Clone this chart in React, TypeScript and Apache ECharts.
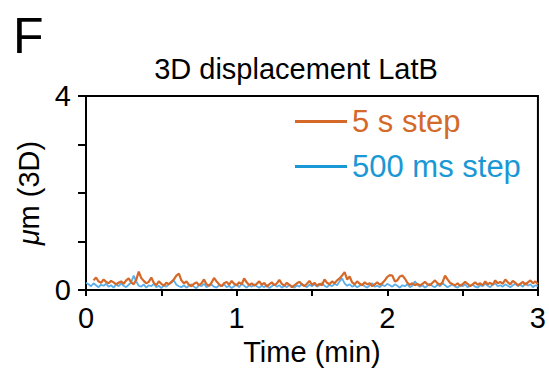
import React, { useEffect, useRef } from "react";
import * as echarts from "echarts";

// Time axis ticks (min)
const xTicks = [0, 1, 2, 3];
const yTicks = [0, 4];

// 5 s step trace: values (µm) sampled every 1 s starting at 3 s
const orangeStartSec = 3;
const orangeStepSec = 1;
const orangeValues = [
  0.20, 0.26, 0.18, 0.15, 0.22, 0.17, 0.14, 0.19, 0.16, 0.12,
  0.15, 0.18, 0.13, 0.20, 0.24, 0.16, 0.12, 0.21, 0.38, 0.25,
  0.19, 0.14, 0.17, 0.26, 0.15, 0.10, 0.18, 0.13, 0.09, 0.15,
  0.12, 0.17, 0.22, 0.30, 0.34, 0.20, 0.14, 0.18, 0.11, 0.08,
  0.13, 0.16, 0.10, 0.14, 0.22, 0.12, 0.09, 0.15, 0.25, 0.18,
  0.12, 0.08, 0.14, 0.17, 0.11, 0.19, 0.13, 0.10, 0.16, 0.12,
  0.24, 0.16, 0.10, 0.14, 0.09, 0.13, 0.18, 0.11, 0.15, 0.07,
  0.12, 0.16, 0.10, 0.14, 0.21, 0.13, 0.09, 0.15, 0.11, 0.06,
  0.10, 0.14, 0.17, 0.12, 0.08, 0.13, 0.19, 0.11, 0.15, 0.09,
  0.13, 0.10, 0.22, 0.15, 0.12, 0.18, 0.14, 0.20, 0.24, 0.30,
  0.37, 0.22, 0.28, 0.16, 0.12, 0.18, 0.13, 0.10, 0.16, 0.12,
  0.14, 0.08, 0.12, 0.16, 0.11, 0.14, 0.20, 0.27, 0.31, 0.30,
  0.18, 0.20, 0.28, 0.30, 0.24, 0.15, 0.11, 0.14, 0.10, 0.13,
  0.09, 0.13, 0.17, 0.12, 0.10, 0.15, 0.20, 0.14, 0.11, 0.16,
  0.30, 0.22, 0.15, 0.12, 0.10, 0.14, 0.09, 0.12, 0.17, 0.13,
  0.08, 0.12, 0.16, 0.11, 0.14, 0.10, 0.18, 0.12, 0.15, 0.11,
  0.20, 0.14, 0.17, 0.13, 0.22, 0.16, 0.12, 0.19, 0.15, 0.10,
  0.13, 0.17, 0.11, 0.16, 0.20, 0.14, 0.18, 0.12,
];

// 500 ms step trace: values (µm) shown every 1 s starting at 0 s
const blueStartSec = 0;
const blueStepSec = 1;
const blueValues = [
  0.15, 0.12, 0.08, 0.14, 0.10, 0.06, 0.11, 0.09, 0.13, 0.07,
  0.10, 0.05, 0.12, 0.08, 0.14, 0.09, 0.06, 0.11, 0.16, 0.30,
  0.18, 0.09, 0.07, 0.12, 0.05, 0.10, 0.08, 0.13, 0.06, 0.09,
  0.04, 0.10, 0.07, 0.12, 0.15, 0.20, 0.11, 0.08, 0.06, 0.10,
  0.05, 0.09, 0.12, 0.07, 0.04, 0.10, 0.08, 0.13, 0.06, 0.09,
  0.11, 0.07, 0.05, 0.10, 0.08, 0.12, 0.06, 0.09, 0.04, 0.08,
  0.11, 0.06, 0.13, 0.09, 0.05, 0.10, 0.07, 0.12, 0.08, 0.05,
  0.09, 0.06, 0.11, 0.04, 0.08, 0.12, 0.07, 0.10, 0.05, 0.09,
  0.06, 0.11, 0.08, 0.05, 0.10, 0.07, 0.13, 0.09, 0.06, 0.11,
  0.08, 0.12, 0.07, 0.10, 0.15, 0.09, 0.06, 0.11, 0.08, 0.13,
  0.10, 0.18, 0.24, 0.14, 0.09, 0.12, 0.07, 0.10, 0.06, 0.09,
  0.12, 0.08, 0.05, 0.10, 0.14, 0.07, 0.09, 0.06, 0.11, 0.08,
  0.13, 0.10, 0.07, 0.12, 0.09, 0.05, 0.10, 0.08, 0.12, 0.06,
  0.09, 0.18, 0.11, 0.07, 0.10, 0.05, 0.09, 0.13, 0.08, 0.06,
  0.11, 0.08, 0.14, 0.10, 0.06, 0.09, 0.12, 0.07, 0.05, 0.10,
  0.08, 0.12, 0.06, 0.09, 0.11, 0.07, 0.05, 0.10, 0.08, 0.13,
  0.09, 0.06, 0.11, 0.14, 0.08, 0.10, 0.07, 0.12, 0.09, 0.06,
  0.10, 0.13, 0.08, 0.11, 0.07, 0.15, 0.09, 0.12, 0.06, 0.10,
  0.08,
];

const seriesNames = ["5 s step", "500 ms step"];
const FONT = "Liberation Sans, Arial, Helvetica, sans-serif";
const ORANGE = "#d4692a";
const BLUE_LINE = "#5aaeea";
const BLUE_TEXT = "#1a98d5";

export default function App() {
  const ref = useRef<HTMLDivElement>(null);

  useEffect(() => {
    if (!ref.current) return;
    const chart = echarts.init(ref.current, undefined, { renderer: "svg" });

    const orangeData = orangeValues.map((v, i) => [
      (orangeStartSec + i * orangeStepSec) / 60,
      v,
    ]);
    const blueData = blueValues.map((v, i) => [
      (blueStartSec + i * blueStepSec) / 60,
      v,
    ]);

    chart.setOption({
      animation: false,
      backgroundColor: "#fff",
      textStyle: { fontFamily: FONT },
      graphic: [
        {
          type: "text",
          left: 13,
          top: 11,
          style: { text: "F", fontSize: 50, fontFamily: FONT, fill: "#000" },
        },
        {
          type: "text",
          x: 296,
          y: 54,
          style: {
            text: "3D displacement LatB",
            fontSize: 29,
            fontFamily: FONT,
            fill: "#000",
            textAlign: "center",
            textVerticalAlign: "top",
          },
        },
      ],
      grid: {
        left: 86,
        right: 8,
        top: 96,
        bottom: 73,
        show: true,
        borderColor: "#000",
        borderWidth: 2,
        containLabel: false,
      },
      legend: {
        orient: "vertical",
        left: 290,
        top: 101,
        itemWidth: 52,
        itemHeight: 3,
        itemGap: 14,
        icon: "rect",
        selectedMode: false,
        textStyle: { fontSize: 31, fontFamily: FONT },
        data: [
          {
            name: seriesNames[0],
            itemStyle: { color: ORANGE },
            textStyle: { color: ORANGE },
          },
          {
            name: seriesNames[1],
            itemStyle: { color: BLUE_TEXT },
            textStyle: { color: BLUE_TEXT },
          },
        ],
      },
      xAxis: {
        type: "value",
        min: 0,
        max: 3,
        interval: 0.5,
        name: "Time (min)",
        nameLocation: "middle",
        nameGap: 38,
        nameTextStyle: { fontSize: 29, color: "#000", fontFamily: FONT },
        axisLine: { show: true, lineStyle: { color: "#000", width: 2 } },
        axisTick: { show: true, length: 6, lineStyle: { color: "#000", width: 2 } },
        splitLine: { show: false },
        axisLabel: {
          fontSize: 29,
          color: "#000",
          margin: 13,
          fontFamily: FONT,
          showMaxLabel: true,
          showMinLabel: true,
          formatter: (v: number) => (xTicks.includes(v) ? String(v) : ""),
        },
      },
      yAxis: {
        type: "value",
        min: 0,
        max: 4,
        interval: 1,
        name: "{i|μ}m (3D)",
        nameLocation: "middle",
        nameGap: 28,
        nameTextStyle: {
          fontSize: 29,
          color: "#000",
          fontFamily: FONT,
          rich: {
            i: { fontSize: 29, fontStyle: "italic", fontFamily: FONT, color: "#000" },
          },
        },
        axisLine: { show: true, lineStyle: { color: "#000", width: 2 } },
        axisTick: { show: true, length: 8, lineStyle: { color: "#000", width: 2 } },
        splitLine: { show: false },
        axisLabel: {
          fontSize: 29,
          color: "#000",
          margin: 15,
          fontFamily: FONT,
          formatter: (v: number) => (yTicks.includes(v) ? String(v) : ""),
        },
      },
      series: [
        {
          name: seriesNames[1],
          type: "line",
          data: blueData,
          showSymbol: false,
          symbol: "none",
          lineStyle: { color: BLUE_LINE, width: 1.8 },
          itemStyle: { color: BLUE_LINE },
          z: 2,
        },
        {
          name: seriesNames[0],
          type: "line",
          data: orangeData,
          showSymbol: false,
          symbol: "none",
          lineStyle: { color: ORANGE, width: 2.2 },
          itemStyle: { color: ORANGE },
          z: 3,
        },
      ],
    });

    return () => chart.dispose();
  }, []);

  return (
    <div
      ref={ref}
      style={{ position: "fixed", left: 0, top: 0, width: 549, height: 371 }}
    />
  );
}
